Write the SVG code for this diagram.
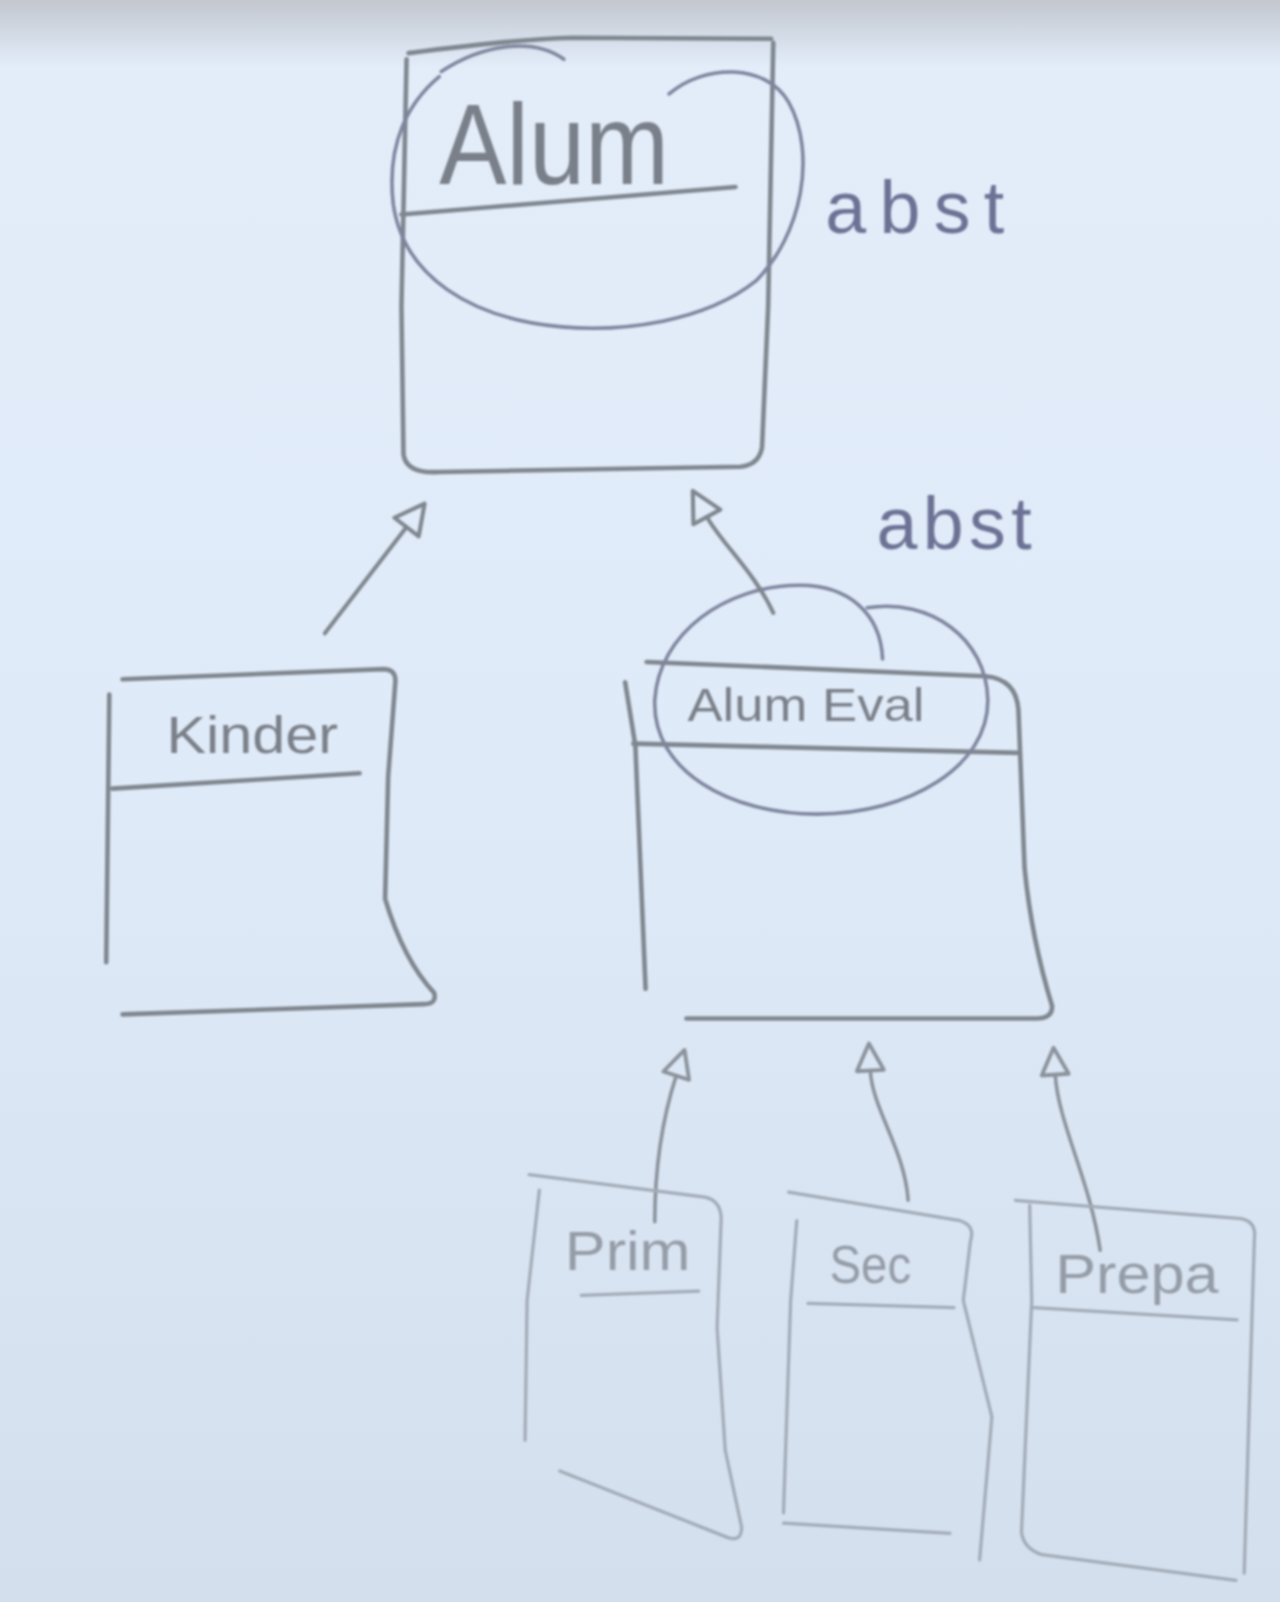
<svg xmlns="http://www.w3.org/2000/svg" width="1280" height="1602" viewBox="0 0 1280 1602">
  <defs>
    <linearGradient id="bg" x1="0" y1="0" x2="0" y2="1">
      <stop offset="0" stop-color="#c3c7ce"/>
      <stop offset="0.022" stop-color="#d3dbe6"/>
      <stop offset="0.042" stop-color="#e3edfa"/>
      <stop offset="0.5" stop-color="#dfeaf8"/>
      <stop offset="1" stop-color="#d4dfed"/>
    </linearGradient>
    <filter id="soft" x="-5%" y="-5%" width="110%" height="110%">
      <feGaussianBlur stdDeviation="0.9"/>
    </filter>
    <filter id="softer" x="-5%" y="-5%" width="110%" height="110%">
      <feGaussianBlur stdDeviation="1.3"/>
    </filter>
    <marker id="inherit" viewBox="0 0 36 36" refX="3" refY="18" markerWidth="36" markerHeight="36" markerUnits="userSpaceOnUse" orient="auto">
      <path d="M3,3 L32,18 L3,33 Z" fill="none" stroke="#7f868f" stroke-width="4" stroke-linejoin="round"/>
    </marker>
    <marker id="inheritLight" viewBox="0 0 36 36" refX="3" refY="18" markerWidth="34" markerHeight="34" markerUnits="userSpaceOnUse" orient="auto">
      <path d="M3,4 L31,18 L3,32 Z" fill="none" stroke="#8a929b" stroke-width="4" stroke-linejoin="round"/>
    </marker>
  </defs>
  <style>
    .box { fill: none; stroke: #7f868f; stroke-width: 4.5; stroke-linecap: round; stroke-linejoin: round; }
    .boxl { fill: none; stroke: #a2abb7; stroke-width: 3.2; stroke-linecap: round; stroke-linejoin: round; }
    .loop { fill: none; stroke: #7e859e; stroke-width: 3.5; stroke-linecap: round; }
    .conn { fill: none; stroke: #7f868f; stroke-width: 4; stroke-linecap: round; }
    .connl { fill: none; stroke: #8a929b; stroke-width: 3.5; stroke-linecap: round; }
    .lbl { font-family: "Liberation Sans", "DejaVu Sans", sans-serif; fill: #7a8089; }
    .lbll { font-family: "Liberation Sans", "DejaVu Sans", sans-serif; fill: #949ca7; }
    .abst { font-family: "Liberation Sans", "DejaVu Sans", sans-serif; fill: #6c7294; font-size: 72px; }
  </style>
  <rect x="0" y="0" width="1280" height="1602" fill="url(#bg)"/>
  <g transform="scale(1.0215)">
    <g filter="url(#soft)">
      <g id="node-alum">
        <path class="box" d="M400,52 C460,44 520,38 560,37 L755,38"/>
        <path class="box" d="M757,42 L752,300 L746,438 Q743,455 725,457 L430,462 Q398,464 395,445 L393,300 L398,58"/>
        <path class="box" d="M393,210 L720,183"/>
        <text class="lbl" x="430" y="180" font-size="112" textLength="225" lengthAdjust="spacingAndGlyphs">Alum</text>
        <path class="loop" d="M655,92 C690,62 750,62 772,100 C800,150 785,230 740,275 C690,315 610,325 550,320 C460,312 395,270 385,200 C378,140 400,100 430,75"/>
        <path class="loop" d="M432,70 C470,45 520,35 552,58"/>
      </g>
      <text id="label-abst-1" class="abst" x="808" y="228" textLength="175" lengthAdjust="spacing">abst</text>
      <text id="label-abst-2" class="abst" x="858" y="537" textLength="152" lengthAdjust="spacing">abst</text>
      <g id="node-kinder">
        <path class="box" d="M107,680 L104,942"/>
        <path class="box" d="M120,665 L375,655 Q388,655 387,668 L380,760 L377,880 Q395,940 425,972 Q428,983 415,983 L120,993"/>
        <path class="box" d="M110,772 L352,757"/>
        <text class="lbl" x="163" y="737" font-size="50" textLength="168" lengthAdjust="spacingAndGlyphs">Kinder</text>
      </g>
      <g id="node-alum-eval">
        <path class="box" d="M612,668 L622,730 L632,968"/>
        <path class="box" d="M633,648 L965,662 Q995,665 997,695 L1003,850 Q1010,920 1030,985 Q1030,997 1015,997 L672,997"/>
        <path class="box" d="M620,728 L997,737"/>
        <text class="lbl" x="673" y="706" font-size="46" textLength="232" lengthAdjust="spacingAndGlyphs">Alum Eval</text>
        <path class="loop" d="M864,645 C862,600 830,573 783,573 C710,573 645,620 641,685 C638,755 715,797 800,797 C890,797 968,750 967,685 C966,625 910,585 849,595"/>
      </g>
      <g id="connectors">
        <path class="conn" d="M318,620 L398,516" marker-end="url(#inherit)"/>
        <path class="conn" d="M757,600 C740,562 705,530 692,506" marker-end="url(#inherit)"/>
        <path class="connl" d="M641,1196 C641,1136 651,1087 662,1053" marker-end="url(#inheritLight)"/>
        <path class="connl" d="M889,1175 C886,1126 854,1086 852,1048" marker-end="url(#inheritLight)"/>
        <path class="connl" d="M1077,1224 C1067,1155 1036,1100 1033,1052" marker-end="url(#inheritLight)"/>
      </g>
    </g>
    <g filter="url(#softer)">
      <g id="node-prim">
        <path class="boxl" d="M518,1150 L690,1172 Q705,1175 706,1192 L702,1300 L710,1420 L726,1495 Q726,1510 712,1505 L548,1440"/>
        <path class="boxl" d="M528,1165 L516,1273 L514,1410"/>
        <path class="boxl" d="M569,1268 L684,1264"/>
        <text class="lbll" x="553" y="1243" font-size="54" textLength="123" lengthAdjust="spacingAndGlyphs">Prim</text>
      </g>
      <g id="node-sec">
        <path class="boxl" d="M772,1167 L940,1195 Q955,1200 950,1215 L943,1273 L971,1387 L959,1527"/>
        <path class="boxl" d="M780,1195 L774,1273 L767,1481"/>
        <path class="boxl" d="M767,1491 L930,1501"/>
        <path class="boxl" d="M791,1276 L934,1280"/>
        <text class="lbll" x="812" y="1256" font-size="52" textLength="80" lengthAdjust="spacingAndGlyphs">Sec</text>
      </g>
      <g id="node-prepa">
        <path class="boxl" d="M994,1175 L1215,1193 Q1230,1196 1228,1212 L1218,1540"/>
        <path class="boxl" d="M1008,1180 L1010,1273 L1000,1500 Q1002,1516 1020,1522 L1210,1547"/>
        <path class="boxl" d="M1012,1280 L1211,1292"/>
        <text class="lbll" x="1033" y="1266" font-size="54" textLength="160" lengthAdjust="spacingAndGlyphs">Prepa</text>
      </g>
    </g>
  </g>
</svg>
